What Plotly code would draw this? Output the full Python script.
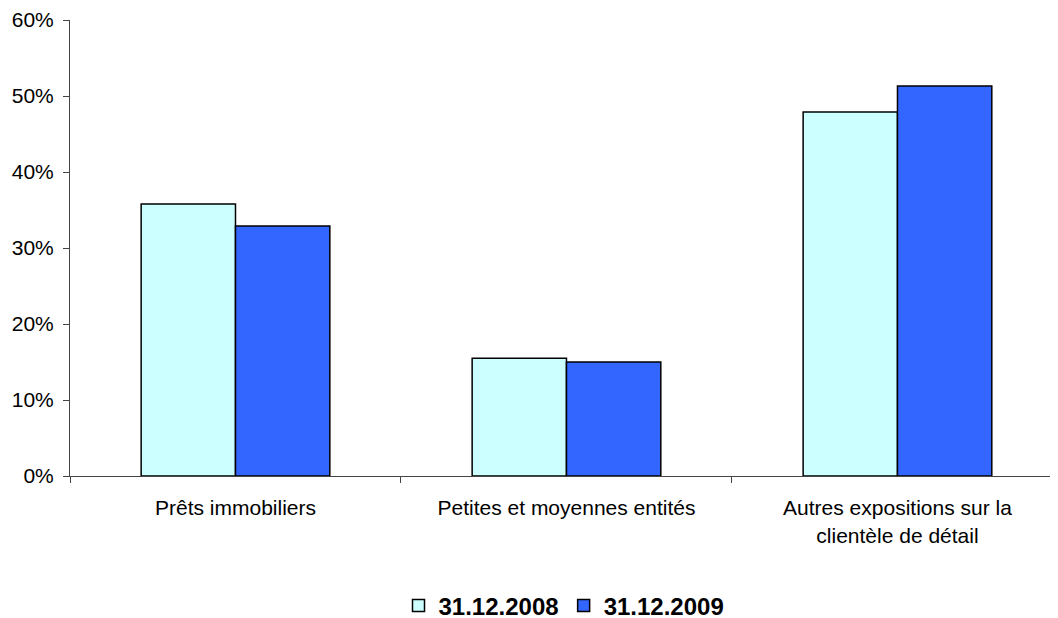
import plotly.graph_objects as go

# 数据
categories = ['Prêts immobiliers', 'Petites et moyennes entités',
              'Autres expositions sur la<br>clientèle de détail']
series_names = ['31.12.2008', '31.12.2009']
values_2008 = [35.8, 15.5, 47.9]
values_2009 = [32.9, 15.0, 51.3]
y_ticks = [0, 10, 20, 30, 40, 50, 60]
y_tick_labels = ['0%', '10%', '20%', '30%', '40%', '50%', '60%']

colors = ['#CCFFFF', '#3366FF']

fig = go.Figure()

for name, vals, color in zip(series_names, [values_2008, values_2009], colors):
    fig.add_trace(go.Bar(
        x=categories,
        y=vals,
        name=name,
        marker=dict(color=color, line=dict(color='black', width=1.5))
    ))

# 布局（页面 body 有 8px 边距）
fig.update_layout(
    width=1058,
    height=618,
    barmode='group',
    bargap=0.43,
    bargroupgap=0,
    plot_bgcolor='white',
    paper_bgcolor='white',
    font=dict(family='Liberation Sans, Arial, sans-serif', size=21, color='black'),
    margin=dict(l=62, r=8, t=12, b=150, autoexpand=False),
    xaxis=dict(
        range=[-0.5, 2.485],
        automargin=False,
        showline=True,
        linecolor='#444444',
        linewidth=1,
        ticks='outside',
        tickson='boundaries',
        ticklen=6,
        tickcolor='#444444',
        showgrid=False,
        ticklabelstandoff=13,
    ),
    yaxis=dict(
        range=[0, 60],
        automargin=False,
        tickvals=y_ticks,
        ticktext=y_tick_labels,
        showline=True,
        linecolor='#444444',
        linewidth=1,
        ticks='outside',
        ticklen=6,
        tickcolor='#444444',
        showgrid=False,
        zeroline=False,
        ticklabelstandoff=5,
    ),
    legend=dict(
        orientation='h',
        x=0.5,
        xanchor='center',
        y=-0.285,
        yanchor='middle',
        font=dict(size=24, family='Liberation Sans, Arial, sans-serif', weight='bold'),
        itemwidth=30,
    ),
)

fig.write_html("out.html")
